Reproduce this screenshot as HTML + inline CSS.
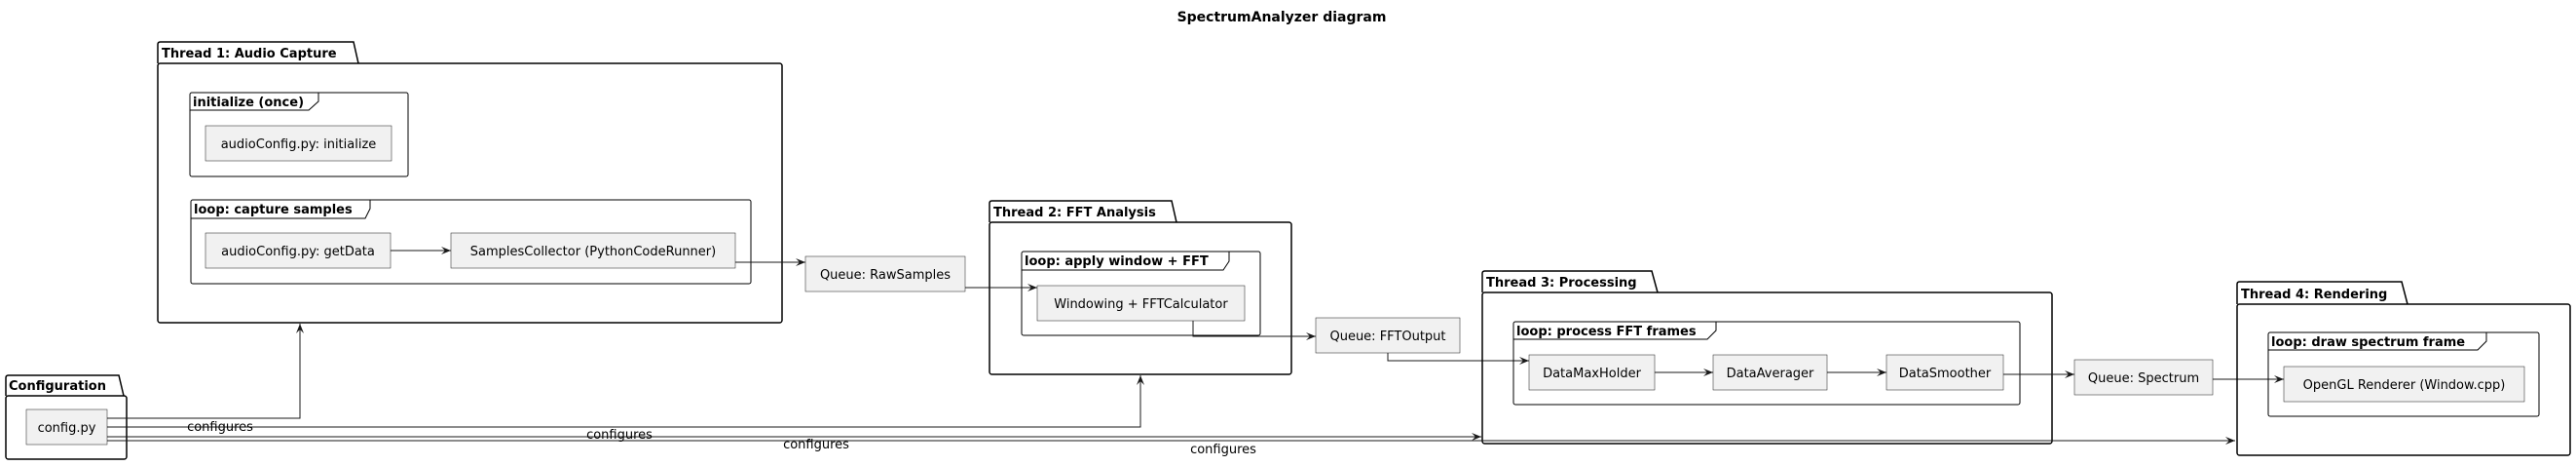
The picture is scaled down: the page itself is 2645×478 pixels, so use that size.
<!DOCTYPE html>
<html><head><meta charset="utf-8"><style>
html,body{margin:0;padding:0;background:#fff;}
svg{display:block;}
text{font-family:"DejaVu Sans","Liberation Sans",sans-serif;fill:#000;}
.b{font-weight:bold;font-size:13px;}
.n{font-size:13px;}
.pk{fill:none;stroke:#000;stroke-width:1.5;}
.fr{fill:none;stroke:#000;stroke-width:1;}
.bx{fill:#F1F1F1;stroke:#181818;stroke-width:0.5;}
.ln{fill:none;stroke:#181818;stroke-width:1;}
</style></head><body>
<svg width="2645" height="478" viewBox="0 0 2645 478" xmlns="http://www.w3.org/2000/svg">
<defs>
<marker id="a" markerWidth="12" markerHeight="10" refX="10" refY="4" orient="auto" markerUnits="userSpaceOnUse">
<path d="M0,0 L10,4 L0,8 L4,4 Z" fill="#181818"/>
</marker>
</defs>
<text class="b" x="1316" y="22" text-anchor="middle" style="font-size:14px">SpectrumAnalyzer diagram</text>

<!-- Thread 1 -->
<path class="pk" d="M162 65 V45.5 Q162 43 164.5 43 H363 L368 65"/>
<rect class="pk" x="162" y="65" width="641" height="266" rx="2.5"/>
<text class="b" x="166" y="59">Thread 1: Audio Capture</text>
<rect class="fr" x="195" y="95" width="224" height="86" rx="2"/>
<path class="fr" d="M195 113 H317 L327 104 V95"/>
<text class="b" x="198" y="109">initialize (once)</text>
<rect class="bx" x="211" y="129" width="191" height="36"/>
<text class="n" x="306.5" y="152" text-anchor="middle">audioConfig.py: initialize</text>
<rect class="fr" x="196" y="205" width="575" height="86" rx="2"/>
<path class="fr" d="M196 224 H375 L380 214 V205"/>
<text class="b" x="199" y="219">loop: capture samples</text>
<rect class="bx" x="211" y="239" width="190" height="36"/>
<text class="n" x="306" y="262" text-anchor="middle">audioConfig.py: getData</text>
<rect class="bx" x="463" y="239" width="292" height="36"/>
<text class="n" x="609" y="262" text-anchor="middle">SamplesCollector (PythonCodeRunner)</text>
<path class="ln" d="M401 257 H463" marker-end="url(#a)"/>
<path class="ln" d="M755 269 H827" marker-end="url(#a)"/>

<rect class="bx" x="827" y="263" width="164" height="36"/>
<text class="n" x="909" y="286" text-anchor="middle">Queue: RawSamples</text>

<!-- Thread 2 -->
<path class="pk" d="M1016 228 V208.5 Q1016 206 1018.5 206 H1203 L1208 228"/>
<rect class="pk" x="1016" y="228" width="310" height="156" rx="2.5"/>
<text class="b" x="1020" y="222">Thread 2: FFT Analysis</text>
<rect class="fr" x="1049" y="258" width="245" height="86" rx="2"/>
<path class="fr" d="M1049 277 H1256 L1262 268 V258"/>
<text class="b" x="1052" y="272">loop: apply window + FFT</text>
<rect class="bx" x="1065" y="293" width="213" height="36"/>
<text class="n" x="1171.5" y="316" text-anchor="middle">Windowing + FFTCalculator</text>
<path class="ln" d="M991 295 H1065" marker-end="url(#a)"/>
<path class="ln" d="M1225 329 V345 H1351" marker-end="url(#a)"/>

<rect class="bx" x="1351" y="326" width="148" height="36"/>
<text class="n" x="1425" y="349" text-anchor="middle">Queue: FFTOutput</text>
<path class="ln" d="M1425 362 V370 H1570" marker-end="url(#a)"/>

<!-- Thread 3 -->
<path class="pk" d="M1522 300 V280.5 Q1522 278 1524.5 278 H1696 L1702 300"/>
<rect class="pk" x="1522" y="300" width="585" height="155" rx="2.5"/>
<text class="b" x="1526" y="294">Thread 3: Processing</text>
<rect class="fr" x="1554" y="330" width="520" height="85" rx="2"/>
<path class="fr" d="M1554 348 H1753 L1762 339 V330"/>
<text class="b" x="1557" y="344">loop: process FFT frames</text>
<rect class="bx" x="1570" y="364" width="129" height="36"/>
<text class="n" x="1634.5" y="387" text-anchor="middle">DataMaxHolder</text>
<rect class="bx" x="1759" y="364" width="117" height="36"/>
<text class="n" x="1817.5" y="387" text-anchor="middle">DataAverager</text>
<rect class="bx" x="1937" y="364" width="120" height="36"/>
<text class="n" x="1997" y="387" text-anchor="middle">DataSmoother</text>
<path class="ln" d="M1699 382 H1759" marker-end="url(#a)"/>
<path class="ln" d="M1876 382 H1937" marker-end="url(#a)"/>
<path class="ln" d="M2057 384 H2130" marker-end="url(#a)"/>

<rect class="bx" x="2130" y="369" width="142" height="36"/>
<text class="n" x="2201" y="392" text-anchor="middle">Queue: Spectrum</text>
<path class="ln" d="M2272 389 H2345" marker-end="url(#a)"/>

<!-- Thread 4 -->
<path class="pk" d="M2297 312 V291.5 Q2297 289 2299.5 289 H2466 L2472 312"/>
<rect class="pk" x="2297" y="312" width="342" height="155" rx="2.5"/>
<text class="b" x="2301" y="306">Thread 4: Rendering</text>
<rect class="fr" x="2329" y="341" width="278" height="86" rx="2"/>
<path class="fr" d="M2329 359 H2544 L2553 350 V341"/>
<text class="b" x="2332" y="355">loop: draw spectrum frame</text>
<rect class="bx" x="2345" y="376" width="247" height="36"/>
<text class="n" x="2468.5" y="399" text-anchor="middle">OpenGL Renderer (Window.cpp)</text>

<!-- Configuration -->
<path class="pk" d="M6 406 V387.5 Q6 385 8.5 385 H122 L127 406"/>
<rect class="pk" x="6" y="406" width="124" height="65" rx="2.5"/>
<text class="b" x="9" y="400">Configuration</text>
<rect class="bx" x="27" y="420" width="83" height="36"/>
<text class="n" x="68.5" y="443" text-anchor="middle">config.py</text>
<path class="ln" d="M110 429 H308 V332" marker-end="url(#a)"/>
<path class="ln" d="M110 438 H1171 V385" marker-end="url(#a)"/>
<path class="ln" d="M110 448 H1521" marker-end="url(#a)"/>
<path class="ln" d="M110 452 H2295" marker-end="url(#a)"/>
<text class="n" x="226" y="442" text-anchor="middle">configures</text>
<text class="n" x="636" y="450" text-anchor="middle">configures</text>
<text class="n" x="838" y="460" text-anchor="middle">configures</text>
<text class="n" x="1256" y="465" text-anchor="middle">configures</text>
</svg>
</body></html>
